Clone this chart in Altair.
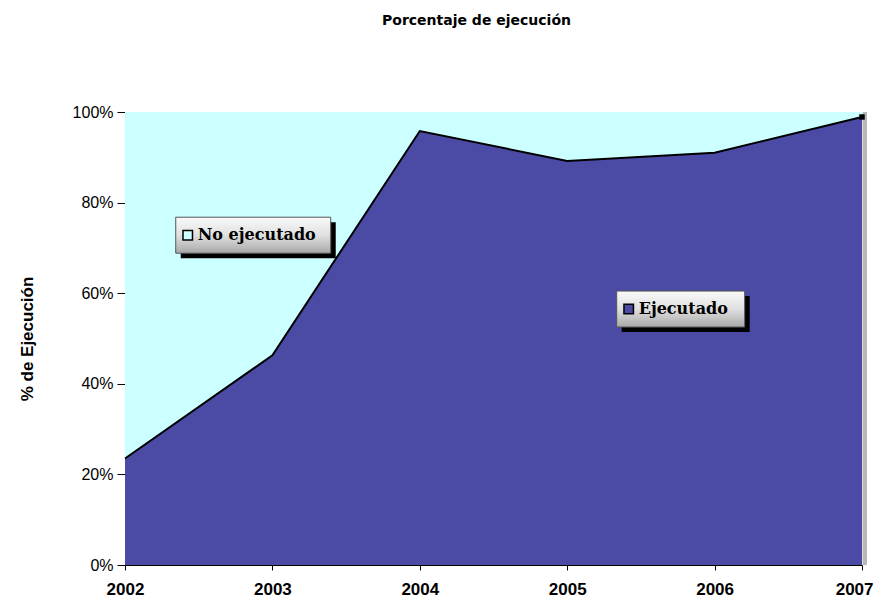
import altair as alt
import pandas as pd

years = [2002, 2003, 2004, 2005, 2006, 2007]
ejecutado = [23.5, 46.3, 95.8, 89.2, 91.0, 98.9]
total = [100, 100, 100, 100, 100, 100]

labels_text = ["No ejecutado", "Ejecutado"]
labels_x = [2002.87, 2005.77]
labels_y = [72.8, 56.5]
labels_w = [155, 128]
labels_marker = ["#CCFFFF", "#4B4BA6"]

df = pd.DataFrame({"year": years, "pct": ejecutado, "total": total})

xs = alt.Scale(domain=[2002, 2007], nice=False, zero=False)
ys = alt.Scale(domain=[0, 100], nice=False)

xenc = alt.X("year:Q", scale=xs, axis=alt.Axis(
    values=years, format="d", title=None, grid=False, labelFontWeight="bold",
    labelFontSize=17, labelFont="Liberation Sans", labelColor="black",
    tickColor="black", domainColor="black", tickSize=5, labelPadding=11,
    labelFlush=False,
    labelAlign={"condition": {"test": "datum.value == 2007", "value": "right"}, "value": "center"},
    labelOffset={"condition": {"test": "datum.value == 2007", "value": 11}, "value": 0}))
yenc = alt.Y("total:Q", scale=ys, axis=alt.Axis(
    values=[0, 20, 40, 60, 80, 100], labelExpr="datum.value + '%'",
    title="% de Ejecución", titleFontSize=17, titleFontWeight="bold",
    titleFont="Liberation Sans", titlePadding=36, grid=False,
    labelFontSize=16, labelFont="Liberation Sans", labelColor="black",
    tickColor="black", domainColor="black", tickSize=8, labelPadding=4))

bg = alt.Chart(df).mark_area(color="#CCFFFF", opacity=1).encode(x=xenc, y=yenc)
area = alt.Chart(df).mark_area(color="#4B4BA6", opacity=1).encode(
    x=alt.X("year:Q", scale=xs), y=alt.Y("pct:Q", scale=ys))
line = alt.Chart(df).mark_line(color="black", strokeWidth=2).encode(
    x="year:Q", y="pct:Q")

side = alt.Chart(pd.DataFrame({"year": [2007]})).mark_rule(
    color="#B8B8B8", strokeWidth=4, xOffset=3).encode(
    x=alt.X("year:Q", scale=xs), y=alt.value(0), y2=alt.value(453))
endpt = alt.Chart(df.tail(1)).mark_square(color="black", size=30, opacity=1).encode(
    x="year:Q", y="pct:Q")

grad = alt.LinearGradient(gradient="linear", x1=0, x2=0, y1=0, y2=1,
                          stops=[alt.GradientStop(color="#FAFAFA", offset=0),
                                 alt.GradientStop(color="#E0E0E0", offset=0.5),
                                 alt.GradientStop(color="#A8A8A8", offset=1)])

label_layers = []
for t, lx, ly, w, mc in zip(labels_text, labels_x, labels_y, labels_w, labels_marker):
    d = pd.DataFrame({"x": [lx], "y": [ly], "text": [t]})
    px_per_year = 737 / 5
    d["xl"] = lx - (w / 2 - 12) / px_per_year
    b = alt.Chart(d)
    shadow = b.mark_rect(fill="black", width=w, height=36, xOffset=5, yOffset=5).encode(
        x=alt.X("x:Q", scale=xs), y=alt.Y("y:Q", scale=ys))
    box = b.mark_rect(fill=grad, stroke="#555555", strokeWidth=1, width=w, height=36).encode(
        x=alt.X("x:Q", scale=xs), y=alt.Y("y:Q", scale=ys))
    marker = b.mark_square(size=90, stroke="black", strokeWidth=1.5, fill=mc, opacity=1).encode(
        x=alt.X("xl:Q", scale=xs), y=alt.Y("y:Q", scale=ys))
    text = b.mark_text(align="left", baseline="middle", font="DejaVu Serif",
                       fontWeight="bold", fontSize=16, dx=10, color="black").encode(
        x=alt.X("xl:Q", scale=xs), y=alt.Y("y:Q", scale=ys), text="text:N")
    label_layers += [shadow, box, marker, text]

chart = alt.layer(bg, area, line, side, endpt, *label_layers).properties(
    width=737, height=453,
    title=alt.TitleParams("Porcentaje de ejecución", fontSize=14, fontWeight="bold",
                          font="DejaVu Sans", anchor="middle", dx=-17, offset=76),
    padding={"left": 117, "top": 104, "right": 12, "bottom": 33},
    autosize=alt.AutoSizeParams(type="none"),
).configure_view(stroke="black", strokeWidth=1
).configure(background="white")

chart.save("out.html", embed_options={"renderer": "svg", "actions": False})
